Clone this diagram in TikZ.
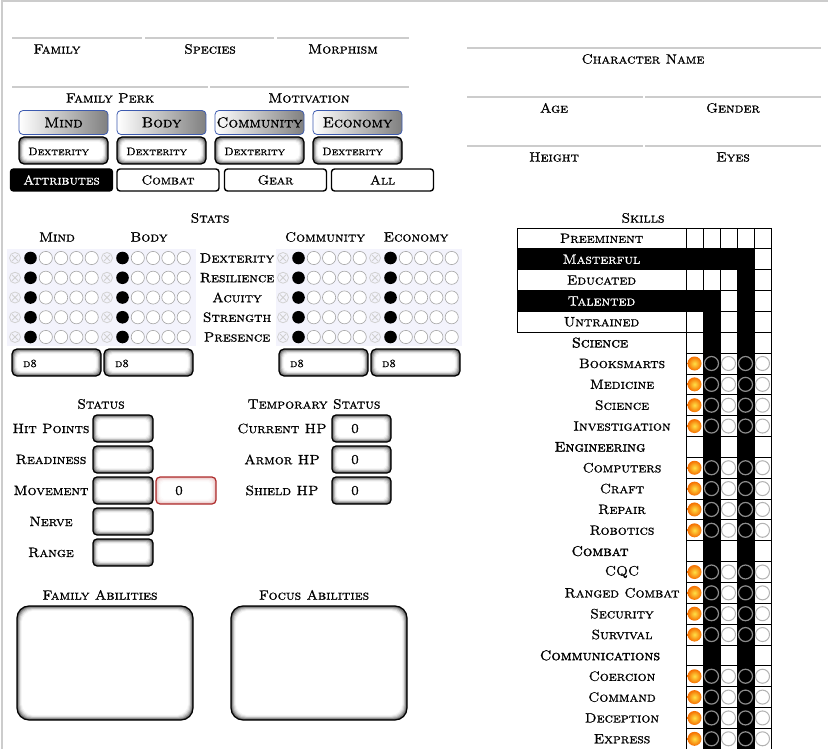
\documentclass[tikz,border=0pt]{standalone}
\usepackage{fontspec}
\setmainfont{lmroman10-regular.otf}[SmallCapsFont=lmromancaps10-regular.otf,FakeStretch=1.05,FakeBold=1]
\usetikzlibrary{positioning}

\definecolor{perkblue}{RGB}{60,90,175}
\definecolor{boxred}{RGB}{175,45,45}
\colorlet{redglow}{boxred!45}
\definecolor{haze}{RGB}{243,243,252}
\definecolor{ballin}{RGB}{255,225,70}
\definecolor{ballout}{RGB}{245,110,0}

\tikzset{
  lbl/.style={font=\fontsize{13.5}{15}\selectfont\scshape, inner sep=0pt},
  cat/.style={font=\fontsize{14}{16}\selectfont\scshape\addfontfeature{FakeBold=2}, inner sep=0pt},
  tiny/.style={font=\fontsize{11}{12}\selectfont\scshape, inner sep=0pt},
  rule/.style={draw=black!20, line width=1.2pt},
  perk/.style={draw=perkblue, line width=0.8pt, rounded corners=4pt, left color=white, right color=black!50,
    minimum width=89pt, minimum height=24pt, inner sep=0pt, font=\fontsize{14.5}{16}\selectfont\scshape},
  tab/.style={draw, line width=1.4pt, rounded corners=3pt, fill=white, minimum width=102pt,
    minimum height=22pt, inner sep=0pt, font=\fontsize{13}{15}\selectfont\scshape},
  tabon/.style={tab, fill=black, text=white},
  xmark/.style={draw=black!18, line width=0.8pt},
  pip/.style={draw=black!35, fill=white, line width=0.6pt},
  cell/.style={draw=black, line width=0.9pt},
  ring/.style={draw=black!45, line width=1.2pt, fill=black},
  hole/.style={draw=black!30, line width=1pt, fill=white},
  ball/.style={inner color=ballin, outer color=ballout},
}

% sunken field: x1,y1,x2,y2,corner,shadow colour,rim colour
\newcommand{\wellbox}[7]{%
  \foreach \w/\sh in {0/70,1/50,2/34,3/21,4/11,5/4}{%
    \fill[#6!\sh!white, rounded corners=#5] ({(#1)+\w*0.8},{(#2)+\w*0.8}) rectangle ({(#3)-\w*0.8},{(#4)-\w*0.8});}
  \fill[white, rounded corners=#5] ({(#1)+4.8},{(#2)+4.8}) rectangle ({(#3)-4.8},{(#4)-4.8});
  \draw[#7, line width=1.2pt, rounded corners=#5] (#1,#2) rectangle (#3,#4);}

\begin{document}
\begin{tikzpicture}[x=1pt,y=-1pt]
\useasboundingbox (0,0) rectangle (828,749);
\clip (0,0) rectangle (828,749);
\fill[white] (0,0) rectangle (828,749);
\draw[black!20, line width=1.5pt] (2,749) -- (2,1) -- (828,1);

% identity
\draw[rule] (12,38) -- (142,38);
\draw[rule] (145,38) -- (274,38);
\draw[rule] (277,38) -- (409,38);
\node[lbl] (family) at (57,49) {Family};
\node[lbl] (species) at (210,49) {Species};
\node[lbl] (morph) at (343,49) {Morphism};
\draw[rule] (12,87) -- (208,87);
\draw[rule] (210,87) -- (409,87);
\node[lbl] (perkhead) at (110,98) {Family Perk};
\node[lbl] (motive) at (309,98) {Motivation};

\node[perk] (mindbtn) at (63.5,122.5) {Mind};
\node[perk] (bodybtn) at (161.5,122.5) {Body};
\node[perk] (commbtn) at (259.5,122.5) {Community};
\node[perk] (econbtn) at (357.5,122.5) {Economy};
\foreach \n in {0,...,3}{
  \wellbox{19+98*\n}{137}{108+98*\n}{164}{5pt}{black}{black}
  \node[tiny, anchor=west] (pick\n) at (28+98*\n,151.5) {Dexterity};
}

\node[tabon] (attrtab) at (61.5,180) {Attributes};
\node[tab] (combtab) at (168,180) {Combat};
\node[tab] (geartab) at (275.5,180) {Gear};
\node[tab] (alltab) at (382.5,180) {All};

\draw[rule] (467,48) -- (821,48);
\node[lbl] (charname) at (643,59) {Character Name};
\draw[rule] (467,97) -- (643,97);
\draw[rule] (645,97) -- (821,97);
\node[lbl] (age) at (554,108) {Age};
\node[lbl] (gender) at (733,108) {Gender};
\draw[rule] (467,146) -- (643,146);
\draw[rule] (645,146) -- (821,146);
\node[lbl] (height) at (554,157) {Height};
\node[lbl] (eyes) at (733,157) {Eyes};

% stats
\node[lbl] (stats) at (210,218) {Stats};
\node[lbl] (mindhd) at (57,237) {Mind};
\node[lbl] (bodyhd) at (149,237) {Body};
\node[lbl] (commhd) at (325,237) {Community};
\node[lbl] (econhd) at (416,237) {Economy};
\fill[haze] (7,249) rectangle (196,346);
\fill[haze] (276,249) rectangle (462,346);
\foreach \gx in {15,107,283,375}{
  \foreach \r in {0,...,4}{
    \pgfmathsetmacro\ry{258+19.75*\r}
    \draw[xmark] (\gx,\ry) circle (5.5pt);
    \draw[xmark] (\gx-3,\ry-3) -- (\gx+3,\ry+3) (\gx-3,\ry+3) -- (\gx+3,\ry-3);
    \foreach \d in {1,...,4}
      \draw[pip] (\gx+15.5+15.3*\d,\ry) circle (6.6pt);
    \fill[black] (\gx+15.5,\ry) circle (6.3pt);
  }
}
\foreach \r/\t in {0/Dexterity,1/Resilience,2/Acuity,3/Strength,4/Presence}
  \node[lbl] (stat\r) at (237,258+19.75*\r) {\t};
\foreach \bx in {12,104,279,371}{
  \wellbox{\bx}{349}{\bx+89}{376}{5pt}{black}{black}
  \node[tiny, anchor=west] (die\bx) at (\bx+11,363.5) {d8};
}

% status
\node[lbl] (status) at (101,404) {Status};
\node[lbl] (tempstatus) at (314,404) {Temporary Status};
\foreach \r/\t in {0/Hit Points,1/Readiness,2/Movement,3/Nerve,4/Range}{
  \node[lbl] (stt\r) at (51,428.5+31*\r) {\t};
  \wellbox{93}{415+31*\r}{153}{442+31*\r}{4pt}{black}{black}
}
\wellbox{156}{477}{216}{504}{4pt}{redglow}{draw=boxred}
\node[lbl] (movebonus) at (179,490.5) {0};
\foreach \r/\t in {0/Current HP,1/Armor HP,2/Shield HP}{
  \node[lbl] (tmp\r) at (282,428.5+31*\r) {\t};
  \wellbox{332}{415+31*\r}{391}{442+31*\r}{4pt}{black}{black}
  \node[lbl] (tmpval\r) at (355,428.5+31*\r) {0};
}

% abilities
\node[lbl] (famab) at (100,595) {Family Abilities};
\node[lbl] (focab) at (314,595) {Focus Abilities};
\wellbox{17}{606}{193}{720}{12pt}{black}{black}
\wellbox{231}{606}{407}{720}{12pt}{black}{black}

% skills
\node[lbl] (skills) at (643,218) {Skills};
\foreach \i in {0,...,24}
  \foreach \j in {0,...,4}
    \draw[cell, fill=white] ({686+17*\j},{228+20.85*\i}) rectangle +(17,20.85);
\foreach \i/\j in {1/0,1/1,1/2,1/3,2/3,3/0,3/1,3/3}
  \draw[cell, fill=black] ({686+17*\j},{228+20.85*\i}) rectangle +(17,20.85);
\foreach \i in {4,...,24}
  \foreach \j in {1,3}
    \draw[cell, fill=black] ({686+17*\j},{228+20.85*\i}) rectangle +(17,20.85);
\foreach \i/\t/\f/\c in {0/Preeminent/white/black,1/Masterful/black/white,2/Educated/white/black,
    3/Talented/black/white,4/Untrained/white/black}{
  \draw[cell, fill=\f] (517,{228+20.85*\i}) rectangle +(169,20.85);
  \node[lbl, text=\c] (tier\i) at (601.5,{238.4+20.85*\i}) {\t};
}
\foreach \i/\t in {5/Science,10/Engineering,15/Combat,20/Communications}
  \node[cat] (cat\i) at (600,{238.4+20.85*\i}) {\t};
\foreach \i/\t in {6/Booksmarts,7/Medicine,8/Science,9/Investigation,11/Computers,12/Craft,13/Repair,
    14/Robotics,16/CQC,17/Ranged Combat,18/Security,19/Survival,21/Coercion,22/Command,23/Deception,24/Express}{
  \pgfmathsetmacro\cy{238.4+20.85*\i}
  \node[lbl] (sk\i) at (622,\cy) {\t};
  \shade[ball] (694.5,\cy) circle (7pt);
  \draw[ring] (711.5,\cy) circle (7pt);
  \draw[hole] (728.5,\cy) circle (7pt);
  \draw[ring] (745.5,\cy) circle (7pt);
  \draw[hole] (762.5,\cy) circle (7pt);
}
\end{tikzpicture}
\end{document}
